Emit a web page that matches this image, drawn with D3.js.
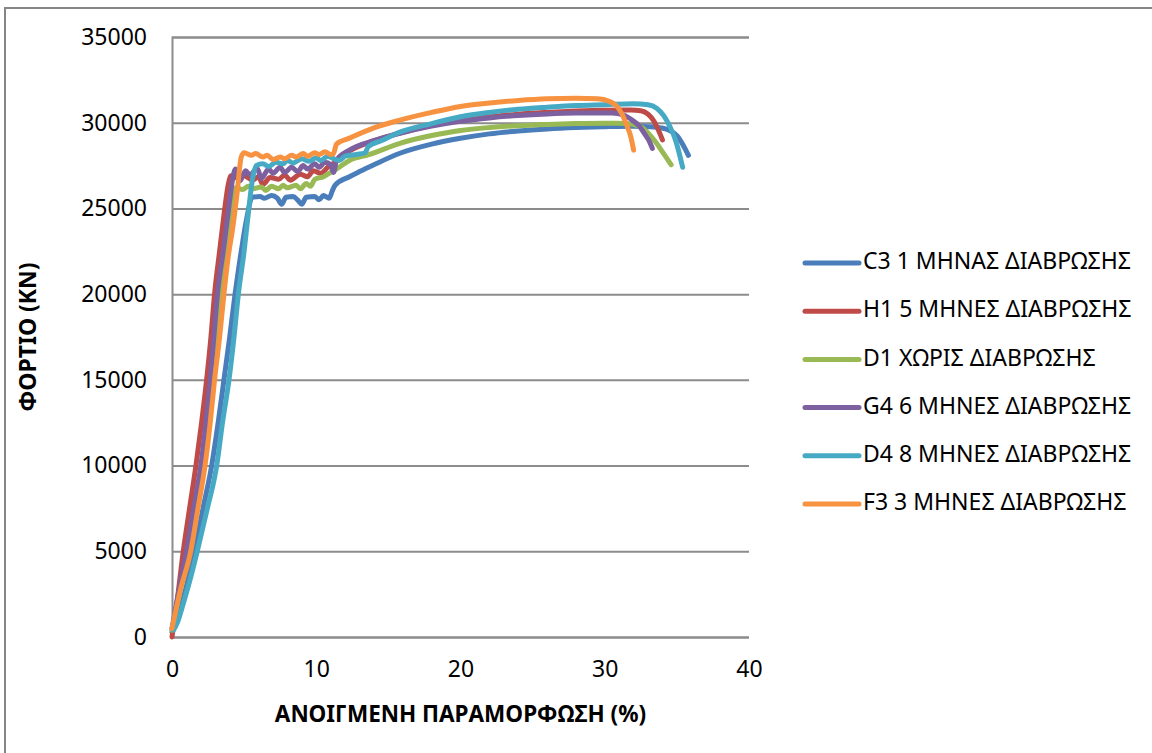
<!DOCTYPE html>
<html>
<head>
<meta charset="utf-8">
<script src="https://cdn.jsdelivr.net/npm/d3@7"></script>
<style>
  body { margin: 0; background: #fff; }
  text { font-family: "Noto Sans", sans-serif; fill: #000; }
</style>
</head>
<body>
<div id="chart"></div>
<script>
const FRAME_WIDTH = 1152;
const FRAME_HEIGHT = 753;
const MARGINS = { left: 172, right: 403, top: 37, bottom: 116 };

const VIS_WIDTH = FRAME_WIDTH - MARGINS.left - MARGINS.right;
const VIS_HEIGHT = FRAME_HEIGHT - MARGINS.top - MARGINS.bottom;

// tick labels
const X_TICKS = [0, 10, 20, 30, 40];
const Y_TICKS = [0, 5000, 10000, 15000, 20000, 25000, 30000, 35000];

// series names, in legend order
const NAMES = [
  "C3 1 ΜΗΝΑΣ ΔΙΑΒΡΩΣΗΣ",
  "H1 5 ΜΗΝΕΣ ΔΙΑΒΡΩΣΗΣ",
  "D1 ΧΩΡΙΣ ΔΙΑΒΡΩΣΗΣ",
  "G4 6 ΜΗΝΕΣ ΔΙΑΒΡΩΣΗΣ",
  "D4 8 ΜΗΝΕΣ ΔΙΑΒΡΩΣΗΣ",
  "F3 3 ΜΗΝΕΣ ΔΙΑΒΡΩΣΗΣ"
];
const COLORS = ["#4A7EBB", "#BE4B48", "#98B954", "#7D60A0", "#46AAC5", "#F69240"];

// [strain %, load kN]
const C3 = [[0, 300], [0.3, 900], [0.7, 2000], [1.1, 3300], [1.55, 5000], [2.15, 7500],
  [2.75, 10000], [3.2, 12500], [3.6, 15000], [4.0, 17500], [4.37, 20000], [4.8, 22500],
  [5.2, 24500], [5.55, 25650], [6.1, 25700], [6.4, 25600], [6.9, 25750], [7.3, 25600],
  [7.6, 25250], [7.9, 25650], [8.4, 25700], [8.7, 25500], [9.0, 25250], [9.3, 25650],
  [9.9, 25700], [10.2, 25500], [10.5, 25750], [10.9, 25600], [11.1, 26000], [11.3, 26350],
  [12.3, 26850], [13, 27150], [14, 27550], [15.8, 28220], [18, 28750], [20, 29090],
  [22, 29350], [24, 29520], [26, 29640], [28, 29720], [30, 29770], [32, 29800],
  [33.1, 29770], [33.9, 29700], [34.5, 29550], [35.0, 29250], [35.4, 28750], [35.8, 28100]];

const H1 = [[0, 0], [0.4, 2400], [0.78, 5000], [1.2, 7400], [1.66, 10000], [2.05, 12500],
  [2.4, 15000], [2.7, 17500], [2.95, 20000], [3.3, 22500], [3.6, 24600], [3.9, 26400],
  [4.1, 26900], [4.6, 26750], [5.0, 26900], [5.6, 26650], [6.0, 26850], [6.3, 26400],
  [6.8, 26800], [7.4, 26700], [7.8, 26950], [8.2, 26650], [8.9, 27000], [9.4, 26850],
  [9.8, 27200], [10.3, 27050], [10.8, 27400], [11.3, 27700], [12.3, 28350], [14, 28950],
  [15.8, 29400], [18, 29850], [20, 30150], [22, 30350], [24, 30500], [26, 30600],
  [28, 30680], [30, 30730], [31.8, 30740], [32.5, 30700], [33.0, 30500], [33.4, 30100],
  [33.7, 29600], [34.0, 29000]];

const D1 = [[0, 400], [0.5, 2500], [1.2, 5000], [1.7, 7500], [2.15, 10000], [2.5, 12500],
  [2.85, 15000], [3.15, 17500], [3.45, 20000], [3.8, 22500], [4.1, 24800], [4.4, 26200],
  [4.9, 26100], [5.3, 26300], [5.6, 26150], [6.2, 26250], [6.5, 26050], [6.9, 26300],
  [7.4, 26150], [7.7, 26350], [8.0, 26200], [8.6, 26350], [8.9, 26150], [9.3, 26450],
  [9.6, 26300], [9.9, 26700], [10.5, 26850], [11.0, 27100], [11.5, 27350], [12.3, 27800],
  [13.7, 28150], [15.8, 28800], [18, 29250], [20, 29550], [22, 29720], [24, 29830],
  [26, 29900], [28, 29950], [30, 29970], [31.5, 29960], [32.4, 29800], [33, 29400],
  [33.5, 28900], [34, 28300], [34.6, 27550]];

const G4 = [[0, 500], [0.5, 2800], [1.0, 5000], [1.5, 7500], [2.0, 10000], [2.35, 12500],
  [2.65, 15000], [2.9, 17500], [3.15, 20000], [3.55, 22500], [3.9, 24800], [4.2, 26700],
  [4.4, 27300], [4.7, 26600], [5.1, 27200], [5.4, 26950], [5.9, 27350], [6.2, 26750],
  [6.7, 27300], [7.0, 27050], [7.5, 27400], [7.8, 27100], [8.3, 27400], [8.7, 27150],
  [9.1, 27500], [9.4, 27300], [9.9, 27600], [10.2, 27400], [10.6, 27700], [11.0, 27550],
  [11.2, 27100], [11.4, 27800], [12.3, 28400], [14, 28950], [15.8, 29380], [18, 29800],
  [20, 30080], [22, 30280], [24, 30420], [26, 30510], [28, 30560], [30.5, 30570],
  [31.3, 30450], [31.9, 30150], [32.4, 29800], [32.8, 29300], [33.1, 28900], [33.3, 28500]];

const D4 = [[0.1, 400], [0.4, 900], [0.8, 2000], [1.3, 3500], [1.75, 5000], [2.45, 7500],
  [3.1, 10000], [3.5, 12500], [3.95, 15000], [4.3, 17500], [4.6, 20000], [5.0, 22500],
  [5.3, 24800], [5.6, 26800], [5.85, 27500], [6.3, 27600], [6.7, 27450], [7.2, 27700],
  [7.7, 27600], [8.0, 27800], [8.4, 27650], [9.0, 27900], [9.5, 27750], [10.0, 27950],
  [10.3, 27800], [10.8, 28050], [11.2, 27900], [11.6, 27800], [12.0, 28050], [12.8, 28150],
  [13.4, 28250], [13.6, 28600], [14.5, 28950], [15.8, 29450], [18, 29950], [20, 30350],
  [22, 30600], [24, 30780], [26, 30900], [28, 31000], [30, 31050], [32, 31100],
  [33, 31050], [33.6, 30850], [34.1, 30400], [34.5, 29800], [34.9, 29000], [35.2, 28100],
  [35.4, 27400]];

const F3 = [[0, 500], [0.6, 2800], [1.3, 5000], [1.8, 7500], [2.29, 10000], [2.65, 12500],
  [2.95, 15000], [3.3, 17500], [3.6, 20000], [3.9, 22200], [4.2, 23800], [4.5, 25800],
  [4.8, 28000], [5.0, 28250], [5.5, 28100], [5.8, 28200], [6.3, 28000], [6.6, 28100],
  [7.0, 27850], [7.5, 28000], [7.8, 27900], [8.3, 28100], [8.6, 28000], [9.1, 28200],
  [9.4, 28050], [9.9, 28250], [10.2, 28150], [10.6, 28300], [11.0, 28150], [11.2, 28200],
  [11.4, 28750], [12.3, 29100], [14, 29700], [15.8, 30150], [18, 30600], [20, 30950],
  [22, 31150], [24, 31300], [26, 31400], [28, 31430], [29.5, 31400], [30.3, 31250],
  [30.8, 31000], [31.2, 30500], [31.5, 29900], [31.8, 29200], [32.0, 28400]];

const SERIES = [C3, H1, D1, G4, D4, F3];

const FRAME = d3.select("#chart")
  .append("svg")
  .attr("width", FRAME_WIDTH)
  .attr("height", FRAME_HEIGHT);

// chart border
FRAME.append("rect")
  .attr("x", 5)
  .attr("y", 8)
  .attr("width", FRAME_WIDTH)
  .attr("height", FRAME_HEIGHT)
  .attr("fill", "none")
  .attr("stroke", "#868686")
  .attr("stroke-width", 2);

const X_SCALE = d3.scaleLinear()
  .domain([0, 40])
  .range([MARGINS.left, MARGINS.left + VIS_WIDTH]);

const Y_SCALE = d3.scaleLinear()
  .domain([0, 35000])
  .range([MARGINS.top + VIS_HEIGHT, MARGINS.top]);

// horizontal gridlines
const Y_AXIS = FRAME.append("g")
  .attr("transform", "translate(" + MARGINS.left + ",0)")
  .call(d3.axisLeft(Y_SCALE).tickValues(Y_TICKS).tickSize(-VIS_WIDTH).tickPadding(25).tickFormat(d3.format("d")));

Y_AXIS.select(".domain").attr("stroke", "#8c8c8c").attr("stroke-width", 2);
Y_AXIS.selectAll(".tick line").attr("stroke", "#8c8c8c").attr("stroke-width", 2);
Y_AXIS.selectAll(".tick text")
  .attr("font-size", "23px")
  .attr("font-family", "Noto Sans")
  .attr("fill", "#000");

const X_AXIS = FRAME.append("g")
  .attr("transform", "translate(0," + (MARGINS.top + VIS_HEIGHT) + ")")
  .call(d3.axisBottom(X_SCALE).tickValues(X_TICKS).tickSize(0).tickPadding(24));

X_AXIS.select(".domain").remove();
X_AXIS.selectAll(".tick text")
  .attr("font-size", "23px")
  .attr("font-family", "Noto Sans")
  .attr("fill", "#000");

// series lines
const LINE = d3.line()
  .x((d) => { return X_SCALE(d[0]); })
  .y((d) => { return Y_SCALE(d[1]); })
  .curve(d3.curveMonotoneX);

FRAME.selectAll(".series")
  .data(SERIES)
  .enter()
  .append("path")
  .attr("class", "series")
  .attr("d", LINE)
  .attr("fill", "none")
  .attr("stroke", (d, i) => { return COLORS[i]; })
  .attr("stroke-width", 5)
  .attr("stroke-linejoin", "round")
  .attr("stroke-linecap", "round");

// axis titles
FRAME.append("text")
  .attr("x", MARGINS.left + VIS_WIDTH / 2)
  .attr("y", 716)
  .attr("text-anchor", "middle")
  .attr("dominant-baseline", "middle")
  .attr("font-size", "22.5px")
  .attr("font-weight", "bold")
  .text("ΑΝΟΙΓΜΕΝΗ ΠΑΡΑΜΟΡΦΩΣΗ (%)");

FRAME.append("text")
  .attr("transform", "translate(30," + (MARGINS.top + VIS_HEIGHT / 2) + ") rotate(-90)")
  .attr("text-anchor", "middle")
  .attr("dominant-baseline", "middle")
  .attr("font-size", "23px")
  .attr("font-weight", "bold")
  .text("ΦΟΡΤΙΟ (KN)");

// legend
const LEGEND = FRAME.selectAll(".legend")
  .data(NAMES)
  .enter()
  .append("g")
  .attr("class", "legend")
  .attr("transform", (d, i) => { return "translate(805," + (263 + i * 48.2) + ")"; });

LEGEND.append("line")
  .attr("x1", 0)
  .attr("x2", 54)
  .attr("stroke", (d, i) => { return COLORS[i]; })
  .attr("stroke-width", 5)
  .attr("stroke-linecap", "round");

LEGEND.append("text")
  .attr("x", 58)
  .attr("dominant-baseline", "middle")
  .attr("font-size", "23px")
  .text((d) => { return d; });
</script>
</body>
</html>
